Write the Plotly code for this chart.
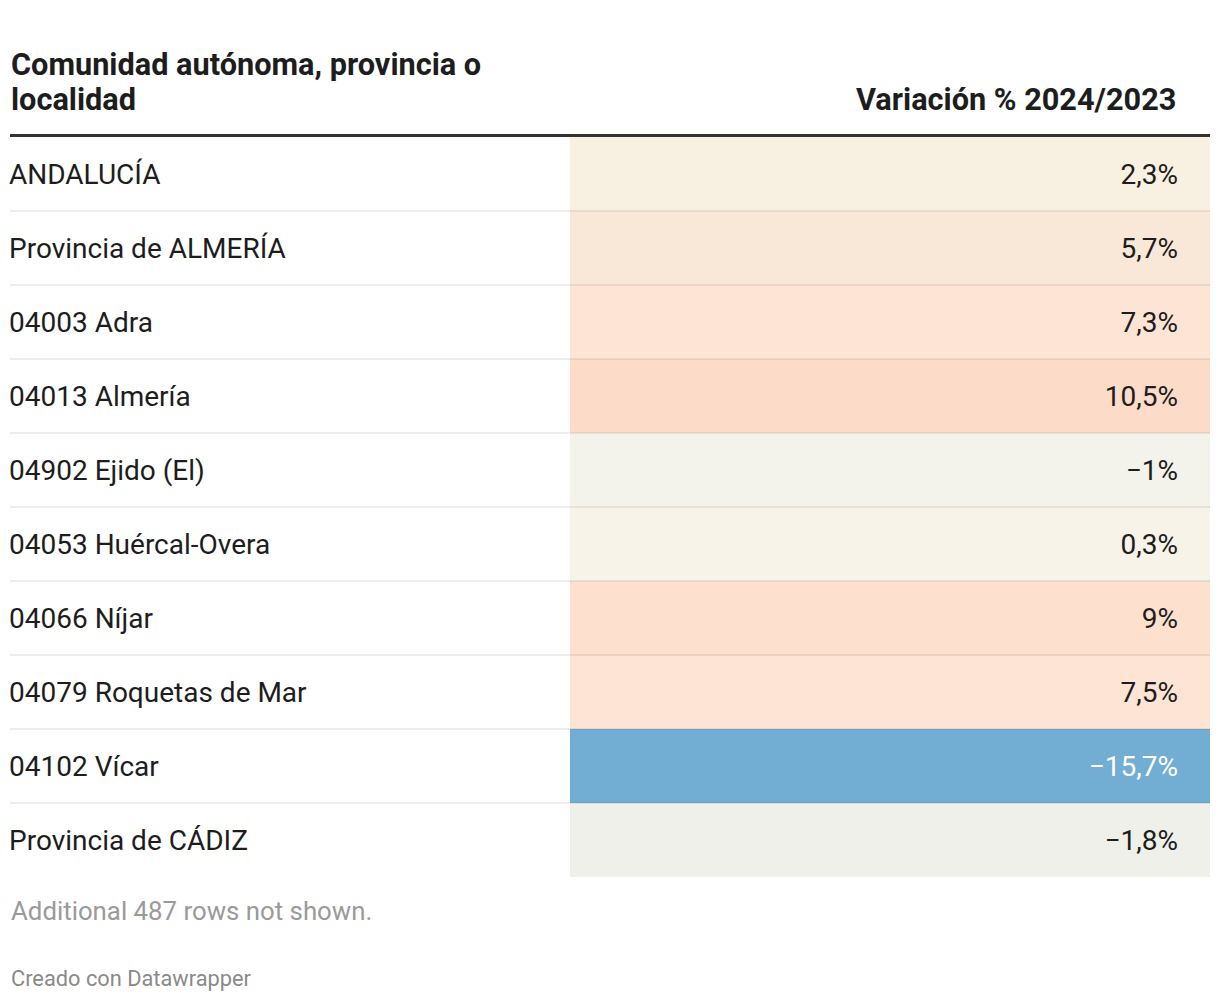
import plotly.graph_objects as go

# ---- data ----
categories = [
    "ANDALUCÍA",
    "Provincia de ALMERÍA",
    "04003 Adra",
    "04013 Almería",
    "04902 Ejido (El)",
    "04053 Huércal-Overa",
    "04066 Níjar",
    "04079 Roquetas de Mar",
    "04102 Vícar",
    "Provincia de CÁDIZ",
]
variation = [2.3, 5.7, 7.3, 10.5, -1.0, 0.3, 9.0, 7.5, -15.7, -1.8]
header_left = ["Comunidad autónoma, provincia o", "localidad"]
header_right = "Variación % 2024/2023"
note_text = "Additional 487 rows not shown."
credit_text = "Creado con Datawrapper"

# ---- colour scale (value anchors -> colour) ----
scale_anchors = [
    (-15.7, "#72aed3"),
    (-1.8, "#f0f0ea"),
    (-1.0, "#f3f3eb"),
    (0.3, "#f7f3e8"),
    (2.3, "#f8f0e1"),
    (5.7, "#f9e8d8"),
    (7.3, "#fde4d5"),
    (9.0, "#fde0cd"),
    (10.5, "#fcdcc9"),
]
cmin, cmax = scale_anchors[0][0], scale_anchors[-1][0]
colorscale = [[(v - cmin) / (cmax - cmin), c] for v, c in scale_anchors]


def fmt(v):
    s = f"{v:.1f}".rstrip("0").rstrip(".")
    s = s.replace(".", ",").replace("-", "\u2212")
    return s + "%"


# ---- layout constants (page pixel coordinates) ----
PAGE_W, PAGE_H = 1220, 1002
BODY_M = 8  # default body margin of the html page
LEFT, RIGHT = 10, 1210
COL2_X0 = 570
VAL_X = 1178
TOP = 137
ROW_H = 74
TEXT_DY = 3
n = len(categories)
centers = [TOP + ROW_H * (i + 0.5) for i in range(n)]
text_y = [c + TEXT_DY for c in centers]

FONT = "Roboto"
TXT = "#1d1d1d"
BODY_SIZE = 28
HEAD_SIZE = 30.7

fig = go.Figure()

# cell backgrounds
fig.add_trace(go.Bar(
    y=centers,
    x=[RIGHT - COL2_X0] * n,
    base=[COL2_X0] * n,
    orientation="h",
    width=[ROW_H] * n,
    marker=dict(color=variation, colorscale=colorscale, cmin=cmin, cmax=cmax,
                line=dict(width=0)),
    hoverinfo="skip",
    showlegend=False,
))

# labels
fig.add_trace(go.Scatter(
    x=[LEFT - 1] * n, y=text_y, mode="text",
    text=categories, textposition="middle right",
    textfont=dict(family=FONT, size=BODY_SIZE, color=TXT),
    hoverinfo="skip", showlegend=False,
))

# values
val_colors = ["#ffffff" if v < -10 else TXT for v in variation]
fig.add_trace(go.Scatter(
    x=[VAL_X] * n, y=text_y, mode="text",
    text=[fmt(v) for v in variation], textposition="middle left",
    textfont=dict(family=FONT, size=BODY_SIZE, color=val_colors),
    hoverinfo="skip", showlegend=False,
))

shapes = []
# header rule
shapes.append(dict(type="line", xref="x", yref="y", x0=LEFT, x1=RIGHT,
                   y0=TOP - 1.5, y1=TOP - 1.5, line=dict(color="#333333", width=3)))
# row separators
for i in range(1, n):
    y = TOP + ROW_H * i
    shapes.append(dict(type="line", xref="x", yref="y", x0=LEFT, x1=RIGHT,
                       y0=y, y1=y, line=dict(color="rgba(0,0,0,0.09)", width=1.5),
                       layer="above"))

annotations = [
    dict(x=LEFT - 1, y=64, xref="x", yref="y", text="<b>" + header_left[0] + "</b>",
         xanchor="left", yanchor="middle", showarrow=False,
         font=dict(family=FONT, size=HEAD_SIZE, color=TXT)),
    dict(x=LEFT - 1, y=99, xref="x", yref="y", text="<b>" + header_left[1] + "</b>",
         xanchor="left", yanchor="middle", showarrow=False,
         font=dict(family=FONT, size=HEAD_SIZE, color=TXT)),
    dict(x=VAL_X, y=99, xref="x", yref="y", text="<b>" + header_right + "</b>",
         xanchor="right", yanchor="middle", showarrow=False,
         font=dict(family=FONT, size=HEAD_SIZE, color=TXT)),
    dict(x=LEFT - 1, y=911, xref="x", yref="y", text=note_text,
         xanchor="left", yanchor="middle", showarrow=False,
         font=dict(family=FONT, size=25.8, color="#9a9a9a")),
    dict(x=LEFT - 1, y=978, xref="x", yref="y", text=credit_text,
         xanchor="left", yanchor="middle", showarrow=False,
         font=dict(family=FONT, size=21.8, color="#8a8a8a")),
]

fig.update_layout(
    width=PAGE_W - 2 * BODY_M, height=PAGE_H - 2 * BODY_M,
    margin=dict(l=0, r=0, t=0, b=0),
    paper_bgcolor="white", plot_bgcolor="white",
    xaxis=dict(range=[BODY_M, PAGE_W - BODY_M], visible=False, fixedrange=True),
    yaxis=dict(range=[PAGE_H - BODY_M, BODY_M], visible=False, fixedrange=True),
    shapes=shapes,
    annotations=annotations,
    showlegend=False,
)

fig.write_html("out.html")
